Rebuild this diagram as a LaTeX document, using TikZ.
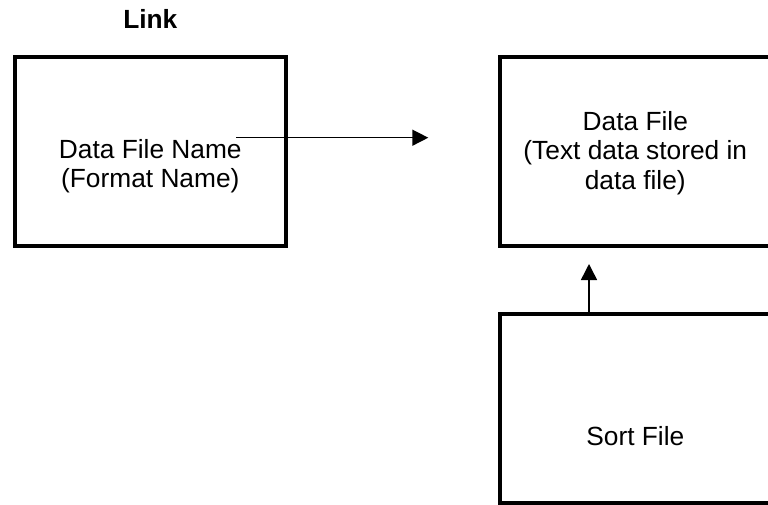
\documentclass[tikz,border=0pt]{standalone}
\usepackage{fontspec}
\setmainfont{Liberation Sans}
\usetikzlibrary{arrows.meta}

\begin{document}
\begin{tikzpicture}[x=1pt,y=-1pt,
    filebox/.style={draw,line width=4pt,minimum width=270.7pt,minimum height=189pt,inner sep=0pt},
    filetext/.style={anchor=north,align=center,inner sep=0pt,font=\fontsize{26.3}{29.5}\selectfont},
    >={Triangle[length=16pt,width=16pt]}]
  \useasboundingbox (0,0) rectangle (768,504);
  \node (link) [anchor=base,font=\fontsize{26.3}{29.5}\selectfont\bfseries] at (150.3,28.7) {Link};

  \begin{scope}[every node/.style=filebox]
    \node (name) at (150.3,151.3) {};
    \node (data) at (635.3,151) {};
    \node (sort) at (635.3,408.5) {};
  \end{scope}

  \begin{scope}[every node/.style=filetext]
    \node (nametext) at (150.3,139) {Data File Name\\(Format Name)};
    \node (datatext) at (635.3,111) {Data File\\(Text data stored in\\data file)};
    \node (sorttext) at (635.3,426.7) {Sort File};
  \end{scope}

  \coordinate (linkfrom) at (236,137.7);
  \coordinate (linkto) at (428.3,137.7);
  \coordinate (sortto) at (589,264);
  \begin{scope}[line width=1.5pt]
    \draw [->] (linkfrom) -- (linkto);
    \draw [->] (sort.north -| sortto) -- (sortto);
  \end{scope}
\end{tikzpicture}
\end{document}
